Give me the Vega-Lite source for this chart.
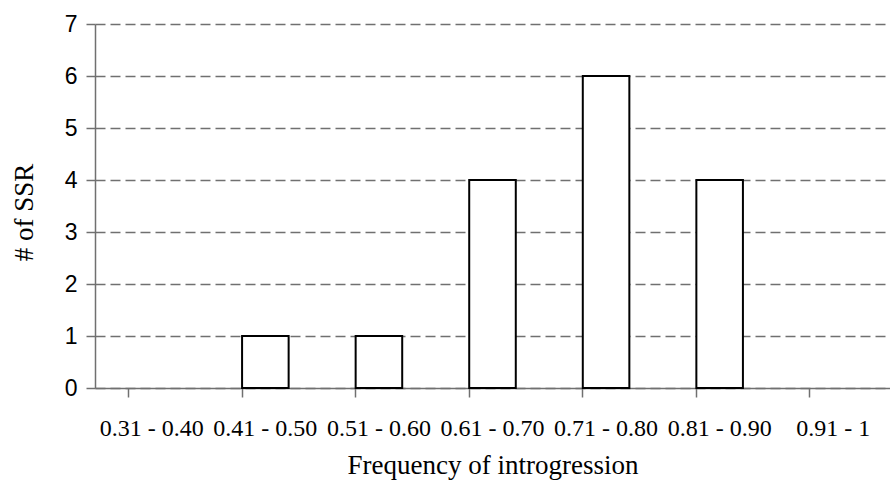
{
  "$schema": "https://vega.github.io/schema/vega-lite/v6.json",
  "width": 795,
  "height": 364,
  "autosize": {"type": "none"},
  "padding": {"left": 95, "top": 24, "right": 0, "bottom": 102},
  "background": "white",
  "config": {"view": {"stroke": null}},
  "data": {
    "values": [
      {"range": "0.31 - 0.40", "count": 0},
      {"range": "0.41 - 0.50", "count": 1},
      {"range": "0.51 - 0.60", "count": 1},
      {"range": "0.61 - 0.70", "count": 4},
      {"range": "0.71 - 0.80", "count": 6},
      {"range": "0.81 - 0.90", "count": 4},
      {"range": "0.91 - 1", "count": 0}
    ]
  },
  "mark": {"type": "bar", "fill": "white", "stroke": "black", "strokeWidth": 2},
  "encoding": {
    "strokeOpacity": {
      "condition": {"test": "datum.count == 0", "value": 0},
      "value": 1
    },
    "x": {
      "field": "range",
      "type": "ordinal",
      "sort": null,
      "scale": {"paddingInner": 0.59, "paddingOuter": 0.295},
      "axis": {
        "title": "Frequency of introgression",
        "titleFont": "Liberation Serif",
        "titleFontSize": 27,
        "titleFontWeight": "normal",
        "titleColor": "black",
        "titlePadding": 12,
        "labelFont": "Liberation Serif",
        "labelFontSize": 24,
        "labelColor": "black",
        "labelAngle": 0,
        "labelPadding": 19,
        "bandPosition": 0,
        "tickSize": 9,
        "tickColor": "#707070",
        "tickWidth": 1.5,
        "domainColor": "#707070",
        "domainWidth": 1.5,
        "grid": false
      }
    },
    "y": {
      "field": "count",
      "type": "quantitative",
      "scale": {"domain": [0, 7], "nice": false},
      "axis": {
        "title": "# of SSR",
        "titleFont": "Liberation Serif",
        "titleFontSize": 27,
        "titleFontWeight": "normal",
        "titleColor": "black",
        "titleAngle": -90,
        "titleX": -71,
        "titleY": 188,
        "titleAlign": "center",
        "titleBaseline": "middle",
        "labelFont": "Liberation Sans",
        "labelFontSize": 23,
        "labelColor": "black",
        "labelPadding": 9,
        "values": [0, 1, 2, 3, 4, 5, 6, 7],
        "tickSize": 9,
        "tickColor": "#707070",
        "tickWidth": 1.5,
        "domainColor": "#707070",
        "domainWidth": 1.5,
        "grid": true,
        "gridColor": "#707070",
        "gridDash": [10, 5],
        "gridWidth": 1.5
      }
    }
  }
}
